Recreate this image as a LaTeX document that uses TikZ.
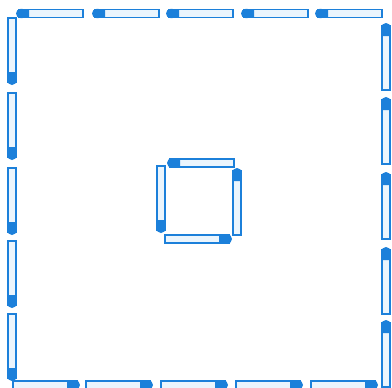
\documentclass[tikz,border=0pt]{standalone}
\begin{document}
\begin{tikzpicture}[x=1pt,y=-1pt,
  matchline/.style={draw=matchblue,line width=1.5pt,fill=matchpale},
  pics/matchstick/.style={code={
    \draw[matchline] (3,-3.8) rectangle (67,3.8);
    \fill[matchblue] (13,-4.2) -- (4.6,-4.6) arc[start angle=-90,end angle=-270,radius=4.6] -- (13,4.2) -- cycle;
  }}]
\definecolor{matchblue}{RGB}{28,128,218}
\definecolor{matchpale}{RGB}{235,245,253}
\useasboundingbox (0,0) rectangle (392,388);
% top row
\foreach \x in {16,92,166,241,315} \pic at (\x,13.5) {matchstick};
% bottom row
\foreach \x in {80,153,228,303,378} \pic[rotate=180] at (\x,385) {matchstick};
% left column
\foreach \y in {85,160,235,308,381} \pic[rotate=90] at (12,\y) {matchstick};
% right column
\foreach \y in {23,97,172,247,320} \pic[rotate=-90] at (386,\y) {matchstick};
% inner square
\pic at (167,163) {matchstick};
\pic[rotate=-90] at (237,168) {matchstick};
\pic[rotate=180] at (232,239) {matchstick};
\pic[rotate=90] at (161,233) {matchstick};
\end{tikzpicture}
\end{document}
